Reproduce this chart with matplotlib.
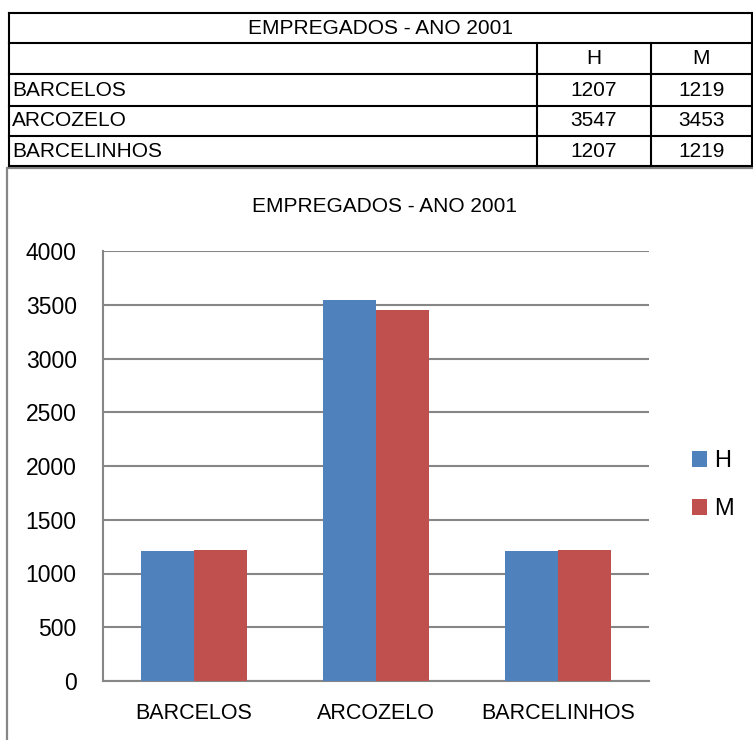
import matplotlib
matplotlib.use("Agg")
import matplotlib.pyplot as plt
import numpy as np

# data
places = ['BARCELOS', 'ARCOZELO', 'BARCELINHOS']
homens = [1207, 3547, 1207]
mulheres = [1219, 3453, 1219]
series_names = ['H', 'M']
title = 'EMPREGADOS - ANO 2001'
y_ticks = [0, 500, 1000, 1500, 2000, 2500, 3000, 3500, 4000]

blue = '#4F81BD'
red = '#C0504D'
grid_grey = '#868686'

W, H = 753, 740
plt.rcParams['font.family'] = ['Liberation Sans', 'DejaVu Sans']
fig = plt.figure(figsize=(W / 100, H / 100), dpi=100)

# background layer in pixel coordinates (table + chart frame)
bg = fig.add_axes([0, 0, 1, 1])
bg.set_xlim(0, W)
bg.set_ylim(H, 0)
bg.axis('off')

# chart frame (grey)
bg.plot([7, 7], [167, H], color=grid_grey, lw=1.6, solid_capstyle='butt')
bg.plot([7, W], [167.5, 167.5], color=grid_grey, lw=1.6, solid_capstyle='butt')

# table grid
row_lines = [13, 43, 74, 106, 136, 166]
x_left, x_right = 9, 752
col_h, col_m = 537, 651
for y in row_lines:
    bg.plot([x_left, x_right], [y, y], color='black', lw=1.5, solid_capstyle='projecting')
bg.plot([x_left, x_left], [13, 166], color='black', lw=1.5)
bg.plot([x_right, x_right], [13, 166], color='black', lw=1.5)
bg.plot([col_h, col_h], [43, 166], color='black', lw=1.5)
bg.plot([col_m, col_m], [43, 166], color='black', lw=1.5)

tfs = 15
bg.text((x_left + x_right) / 2, 28.5, title, ha='center', va='center', fontsize=tfs)
bg.text((col_h + col_m) / 2, 59, series_names[0], ha='center', va='center', fontsize=tfs)
bg.text((col_m + x_right) / 2, 59, series_names[1], ha='center', va='center', fontsize=tfs)
row_mid = [90, 121, 151.5]
for name, h, m, yc in zip(places, homens, mulheres, row_mid):
    bg.text(12, yc, name, ha='left', va='center', fontsize=tfs)
    bg.text((col_h + col_m) / 2, yc, str(h), ha='center', va='center', fontsize=tfs)
    bg.text((col_m + x_right) / 2, yc, str(m), ha='center', va='center', fontsize=tfs)

# chart title
bg.text(385, 206, title, ha='center', va='center', fontsize=15)

# bar chart
ax = fig.add_axes([103 / W, (H - 681) / H, (649 - 103) / W, (681 - 251) / H])
x = np.arange(len(places))
bw = 0.29
b1 = ax.bar(x - bw / 2, homens, bw, color=blue, label=series_names[0], zorder=3)
b2 = ax.bar(x + bw / 2, mulheres, bw, color=red, label=series_names[1], zorder=3)

ax.set_xlim(-0.5, len(places) - 0.5)
ax.set_ylim(0, 4000)
ax.set_yticks(y_ticks)
ax.yaxis.grid(True, color=grid_grey, lw=1.5, zorder=0)
ax.set_axisbelow(True)
for s in ['top', 'right']:
    ax.spines[s].set_visible(False)
for s in ['left', 'bottom']:
    ax.spines[s].set_color(grid_grey)
    ax.spines[s].set_linewidth(1.5)
ax.tick_params(axis='y', length=0, pad=19, labelsize=16.5)
ax.tick_params(axis='x', length=0, pad=16, labelsize=15.5)
ax.set_xticks(x)
ax.set_xticklabels(places)

fig.legend(handles=[b1, b2], labels=series_names, loc='center left',
           bbox_to_anchor=(692 / W, 1 - 485 / H), frameon=False,
           fontsize=17, handlelength=0.65, handleheight=0.65,
           handletextpad=0.3, labelspacing=1.1, borderaxespad=0,
           borderpad=0)

fig.savefig('out.png', dpi=100)
